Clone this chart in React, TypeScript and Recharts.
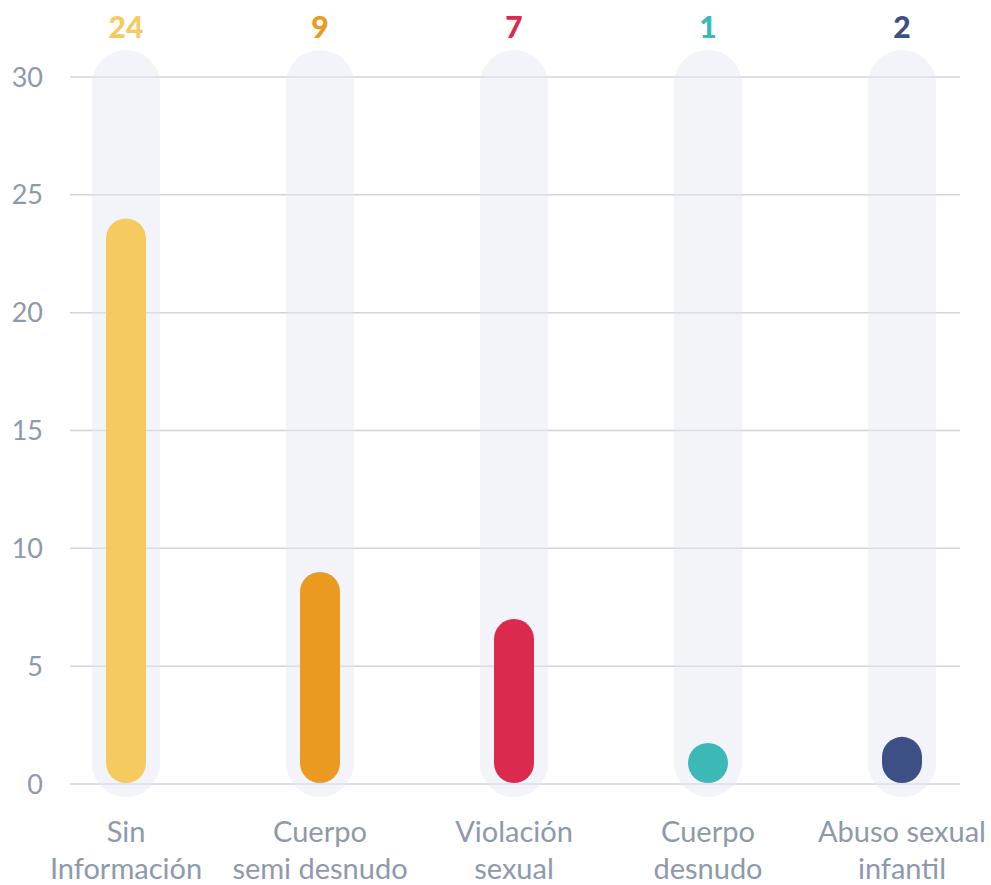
import React from "react";
import { BarChart, Bar, XAxis, YAxis, CartesianGrid, LabelList, Cell } from "recharts";

const categories = [
  "Sin\nInformación",
  "Cuerpo\nsemi desnudo",
  "Violación\nsexual",
  "Cuerpo\ndesnudo",
  "Abuso sexual\ninfantil",
];
const counts = [24, 9, 7, 1, 2];
const barColors = ["#f5ca5f", "#ea9a20", "#dc2a4e", "#3cb9b7", "#3c5085"];
const yTicks = [0, 5, 10, 15, 20, 25, 30];

const data = categories.map((name, i) => ({ name, value: counts[i] }));

const FONT = "Lato, 'Open Sans', sans-serif";
const TOP = 77;

// pill shaped bar, never shorter than its width
const PillBar = (props: any) => {
  const { x, y, width, height, fill } = props;
  const bottom = y + height - 1;
  const h = Math.max(height - 1, width);
  return <rect x={x} y={bottom - h} width={width} height={h} rx={width / 2} fill={fill} />;
};

const PillBackground = (props: any) => {
  const { x, y, width, height } = props;
  const w = 68;
  const cx = x + width / 2;
  return (
    <rect
      x={cx - w / 2}
      y={y - 27}
      width={w}
      height={height + 40}
      rx={w / 2}
      fill="rgba(228, 231, 245, 0.45)"
    />
  );
};

const XTick = (props: any) => {
  const { x, y, payload } = props;
  const lines = String(payload.value).split("\n");
  return (
    <text textAnchor="middle" fill="#8e99ab" fontSize={29} fontFamily={FONT}>
      {lines.map((l, i) => (
        <tspan key={i} x={x} y={y + 50 + i * 37}>
          {l}
        </tspan>
      ))}
    </text>
  );
};

const TopLabel = (props: any) => {
  const { x, width, value, index } = props;
  return (
    <text
      x={x + width / 2}
      y={TOP - 39}
      textAnchor="middle"
      fill={barColors[index]}
      fontSize={30}
      fontWeight={900}
      fontFamily={FONT}
    >
      {value}
    </text>
  );
};

export default function App() {
  return (
    <div style={{ position: "absolute", left: 0, top: 0, background: "#fff" }}>
      <BarChart
        width={991}
        height={885}
        data={data}
        margin={{ top: TOP, right: 31, left: 0, bottom: 0 }}
      >
        <CartesianGrid vertical={false} stroke="#d3d4da" strokeWidth={1.5} />
        <XAxis
          dataKey="name"
          axisLine={false}
          tickLine={false}
          height={101}
          interval={0}
          padding={{ left: -41, right: -39 }}
          tick={<XTick />}
        />
        <YAxis
          domain={[0, 30]}
          ticks={yTicks}
          width={70}
          axisLine={false}
          tickLine={false}
          tickSize={0}
          tickMargin={27}
          tick={{ fill: "#8e99ab", fontSize: 27, fontFamily: FONT }}
        />
        <Bar
          dataKey="value"
          barSize={40}
          shape={<PillBar />}
          background={<PillBackground />}
          isAnimationActive={false}
        >
          {data.map((d, i) => (
            <Cell key={d.name} fill={barColors[i]} />
          ))}
          <LabelList dataKey="value" content={<TopLabel />} />
        </Bar>
      </BarChart>
    </div>
  );
}
